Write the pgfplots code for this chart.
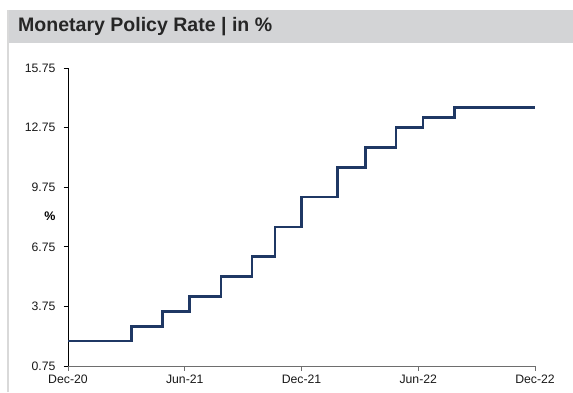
\documentclass[border=0pt]{standalone}
\usepackage{pgfplots}
\pgfplotsset{compat=1.18}
\usepackage{fontspec}
\setmainfont{Liberation Sans}
\definecolor{ratecol}{RGB}{31,56,100}
\definecolor{barcol}{RGB}{211,212,214}
\definecolor{framecol}{RGB}{217,217,217}
\definecolor{xaxcol}{RGB}{110,110,110}

% Policy rate path, x in months after December 2020
\pgfplotstableread{
m     rate
0     2.00
3.25  2.75
4.87  3.50
6.25  4.25
7.86  5.25
9.45  6.25
10.63 7.75
12.0  9.25
13.85 10.75
15.3  11.75
16.85 12.75
18.25 13.25
19.85 13.75
24.0  13.75
}\ratedata

\begin{document}
\begin{tikzpicture}[x=1bp,y=1bp]
\path[use as bounding box, fill=white] (0,0) rectangle (573,392);
% frame and title bar
\fill[barcol] (8,349) rectangle (573,382);
\draw[framecol, line width=1.6bp] (8,0) -- (8,382);
\node[anchor=west, inner sep=0pt, font=\fontsize{19.6}{22}\selectfont\bfseries, text=black!85]
  at (18,365.5) {Monetary Policy Rate | in \%};

\begin{axis}[
  at={(68bp,26bp)}, anchor=south west,
  scale only axis, width=467bp, height=298bp,
  xmin=0, xmax=24, ymin=0.75, ymax=15.75,
  axis x line*=bottom, axis y line*=left,
  x axis line style={xaxcol, line width=1bp, -},
  y axis line style={black, line width=0.9bp, -},
  xtick={0,6,12,18,24},
  xticklabels={Dec-20,Jun-21,Dec-21,Jun-22,Dec-22},
  ytick={0.75,3.75,6.75,9.75,12.75,15.75},
  yticklabels={0.75,3.75,6.75,9.75,12.75,15.75},
  tick align=outside, major tick length=4.5bp,
  x tick style={xaxcol, line width=0.8bp},
  y tick style={black, line width=0.8bp},
  ticklabel style={font=\fontsize{12.3}{14}\selectfont, text=black!90},
  xticklabel style={yshift=-1bp},
  yticklabel style={xshift=-4.5bp},
  clip=false,
]
\addplot[const plot, color=ratecol, line width=2.6bp, line join=miter] table[x=m, y=rate] {\ratedata};
\end{axis}
\node[font=\fontsize{12.5}{14}\selectfont\bfseries] at (50,176) {\%};
\end{tikzpicture}
\end{document}
